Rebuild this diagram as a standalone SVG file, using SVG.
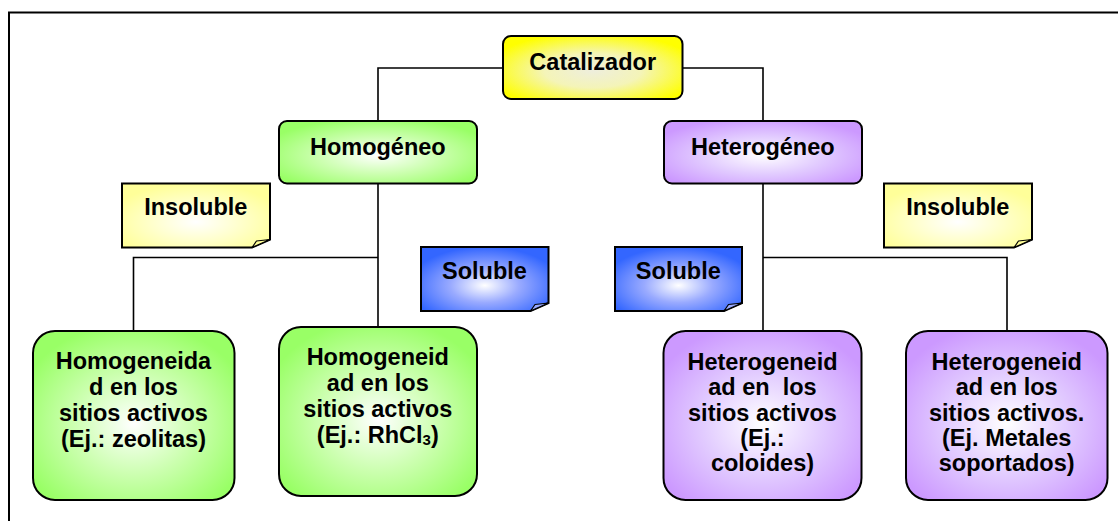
<svg xmlns="http://www.w3.org/2000/svg" width="1118" height="521" viewBox="0 0 1118 521">
<defs>
<radialGradient id="gY" cx="50%" cy="55%" r="60%"><stop offset="0" stop-color="#EEEEDD"/><stop offset="0.45" stop-color="#F4F4B8"/><stop offset="1" stop-color="#FFFF00"/></radialGradient>
<radialGradient id="gG" cx="50%" cy="55%" r="60%"><stop offset="0" stop-color="#FFFFFF"/><stop offset="0.5" stop-color="#CCFFB0"/><stop offset="1" stop-color="#99FF66"/></radialGradient>
<radialGradient id="gP" cx="50%" cy="55%" r="60%"><stop offset="0" stop-color="#FFFFFF"/><stop offset="0.5" stop-color="#E2CCFF"/><stop offset="1" stop-color="#CC99FF"/></radialGradient>
<radialGradient id="gL" cx="50%" cy="60%" r="60%"><stop offset="0" stop-color="#FFFFFF"/><stop offset="0.5" stop-color="#FFFFCC"/><stop offset="1" stop-color="#FFFF99"/></radialGradient>
<radialGradient id="gB" cx="50%" cy="60%" r="60%"><stop offset="0" stop-color="#FFFFFF"/><stop offset="0.45" stop-color="#99AAFF"/><stop offset="1" stop-color="#3366FF"/></radialGradient>
</defs>
<style>
.t{font-family:"Liberation Sans",Arial,sans-serif;font-weight:bold;font-size:23.5px;fill:#000;text-anchor:middle;white-space:pre}
.b{stroke:#000;stroke-width:2}
.c{fill:none;stroke:#000;stroke-width:1.6}
.fold{stroke:#000;stroke-width:1.2;stroke-linejoin:round}
</style>
<rect width="1118" height="521" fill="#FFFFFF"/>
<path d="M9 521 V12.5 H1118" fill="none" stroke="#000" stroke-width="2"/>

<g id="connectors">
<path class="c" d="M503 68 H378 V121"/>
<path class="c" d="M682 68 H763 V121"/>
<path class="c" d="M378 183 V327"/>
<path class="c" d="M378 257.5 H133.5 V331"/>
<path class="c" d="M763 183 V331"/>
<path class="c" d="M763 257.5 H1007 V331"/>
</g>

<g id="catalizador">
<rect class="b" x="503" y="36" width="179.5" height="63" rx="8" fill="url(#gY)"/>
<text class="t" x="592.7" y="69.5">Catalizador</text>
</g>

<g id="homogeneo">
<rect class="b" x="279" y="121" width="198" height="62.5" rx="8" fill="url(#gG)"/>
<text class="t" x="377.8" y="155">Homogéneo</text>
</g>

<g id="heterogeneo">
<rect class="b" x="664" y="121" width="198" height="62.5" rx="8" fill="url(#gP)"/>
<text class="t" x="762.8" y="155">Heterogéneo</text>
</g>

<g id="insoluble-left">
<path class="b" d="M122 183.5 H270 V239.5 L252 247.5 H122 Z" fill="url(#gL)"/>
<path class="fold" d="M270 239.5 L252 247.5 L256.5 241 Z" fill="#FFFF99"/>
<text class="t" x="195.8" y="215">Insoluble</text>
</g>

<g id="soluble-left">
<path class="b" d="M421 247 H548.5 V303 L530.5 311 H421 Z" fill="url(#gB)"/>
<path class="fold" d="M548.5 303 L530.5 311 L535 304.5 Z" fill="#99AAFF"/>
<text class="t" x="484.5" y="278.5">Soluble</text>
</g>

<g id="soluble-right">
<path class="b" d="M615 247 H742 V303 L724 311 H615 Z" fill="url(#gB)"/>
<path class="fold" d="M742 303 L724 311 L728.5 304.5 Z" fill="#99AAFF"/>
<text class="t" x="678.3" y="278.5">Soluble</text>
</g>

<g id="insoluble-right">
<path class="b" d="M884 183.5 H1032 V239.5 L1014 247.5 H884 Z" fill="url(#gL)"/>
<path class="fold" d="M1032 239.5 L1014 247.5 L1018.5 241 Z" fill="#FFFF99"/>
<text class="t" x="957.8" y="215">Insoluble</text>
</g>

<g id="homo-zeolitas">
<rect class="b" x="33" y="331" width="201.5" height="169" rx="22" fill="url(#gG)"/>
<text class="t" x="133.5" y="369">Homogeneida</text>
<text class="t" x="133.5" y="395">d en los</text>
<text class="t" x="133.5" y="421">sitios activos</text>
<text class="t" x="133.5" y="447">(Ej.: zeolitas)</text>
</g>

<g id="homo-rhcl3">
<rect class="b" x="279" y="327" width="198" height="169" rx="22" fill="url(#gG)"/>
<text class="t" x="377.8" y="365">Homogeneid</text>
<text class="t" x="377.8" y="391">ad en los</text>
<text class="t" x="377.8" y="417">sitios activos</text>
<text class="t" x="377.8" y="443">(Ej.: RhCl<tspan font-size="15" dy="2">3</tspan><tspan dy="-2">)</tspan></text>
</g>

<g id="hetero-coloides">
<rect class="b" x="663.5" y="331" width="198" height="169" rx="22" fill="url(#gP)"/>
<text class="t" x="762.5" y="370">Heterogeneid</text>
<text class="t" x="762.5" y="395">ad en  los</text>
<text class="t" x="762.5" y="420.5">sitios activos</text>
<text class="t" x="762.5" y="445.5">(Ej.:</text>
<text class="t" x="762.5" y="470.5">coloides)</text>
</g>

<g id="hetero-metales">
<rect class="b" x="906" y="331" width="201.5" height="169" rx="22" fill="url(#gP)"/>
<text class="t" x="1006.7" y="370">Heterogeneid</text>
<text class="t" x="1006.7" y="395">ad en los</text>
<text class="t" x="1006.7" y="420.5">sitios activos.</text>
<text class="t" x="1006.7" y="445.5">(Ej. Metales</text>
<text class="t" x="1006.7" y="470.5">soportados)</text>
</g>
</svg>
